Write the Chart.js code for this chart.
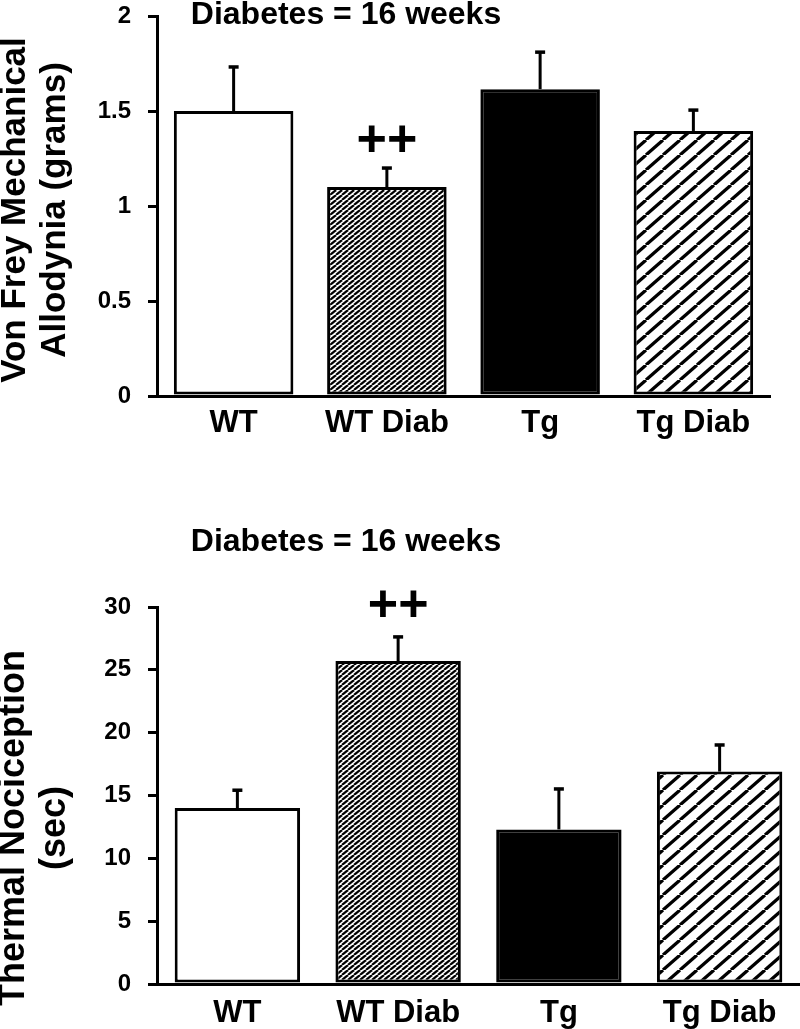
<!DOCTYPE html>
<html>
<head>
<meta charset="utf-8">
<script src="https://cdn.jsdelivr.net/npm/chart.js@4.4.1/dist/chart.umd.min.js"></script>
<style>
  html, body { margin: 0; padding: 0; background: #ffffff; }
  body { width: 800px; height: 1029px; position: relative; overflow: hidden; }
  .box { position: absolute; left: 0; width: 800px; }
  #box1 { top: -40px; height: 480px; }
  #box2 { top: 520px; height: 509px; }
</style>
</head>
<body>
<div class="box" id="box1"><canvas id="c1" width="800" height="480"></canvas></div>
<div class="box" id="box2"><canvas id="c2" width="800" height="509"></canvas></div>
<script>
// ---- data ----
const categories = ['WT', 'WT Diab', 'Tg', 'Tg Diab'];
const vonFreyMeans = [1.50, 1.10, 1.615, 1.395];
const vonFreyErr = [0.237, 0.105, 0.20, 0.115];
const thermalMeans = [14.0, 25.7, 12.3, 16.9];
const thermalErr = [1.5, 2.0, 3.3, 2.2];
const annotations = ['', '++', '', ''];
const vonFreyTicks = ['0', '0.5', '1', '1.5', '2'];
const thermalTicks = ['0', '5', '10', '15', '20', '25', '30'];
const panelTitle = 'Diabetes = 16 weeks';
const vonFreyAxisTitle = ['Von Frey Mechanical', 'Allodynia (grams)'];
const thermalAxisTitle = ['Thermal Nociception', '(sec)'];

const FONT = '"Liberation Sans", Arial, Helvetica, sans-serif';

function makeHatch(w, h, lw) {
  const c = document.createElement('canvas');
  c.width = w; c.height = h;
  const g = c.getContext('2d');
  g.fillStyle = '#ffffff';
  g.fillRect(0, 0, w, h);
  g.strokeStyle = '#000000';
  g.lineWidth = lw;
  for (let k = -1; k <= 1; k++) {
    g.beginPath();
    g.moveTo(k * w, h);
    g.lineTo(k * w + w, 0);
    g.stroke();
  }
  return g.createPattern(c, 'repeat');
}

const denseHatch = makeHatch(6, 5, 2.2);
const wideHatch = makeHatch(17, 15, 3.2);
const barFills = ['#ffffff', denseHatch, '#000000', wideHatch];

const decorPlugin = {
  id: 'decor',
  afterDatasetsDraw(chart, args, opts) {
    const ctx = chart.ctx;
    const xs = chart.scales.x, ys = chart.scales.y;
    const means = chart.data.datasets[0].data;
    const errs = opts.errors;
    ctx.save();
    ctx.strokeStyle = '#000';
    ctx.fillStyle = '#000';
    ctx.lineCap = 'butt';
    for (let i = 0; i < means.length; i++) {
      const x = xs.getPixelForValue(i);
      const yb = ys.getPixelForValue(means[i]);
      const yt = ys.getPixelForValue(means[i] + errs[i]);
      ctx.lineWidth = 3;
      ctx.beginPath();
      ctx.moveTo(x, yb);
      ctx.lineTo(x, yt);
      ctx.stroke();
      ctx.lineWidth = 3.5;
      ctx.beginPath();
      ctx.moveTo(x - 5, yt + 1);
      ctx.lineTo(x + 5, yt + 1);
      ctx.stroke();
      if (annotations[i]) {
        ctx.font = 'bold 52px ' + FONT;
        ctx.textAlign = 'center';
        ctx.textBaseline = 'middle';
        ctx.fillText(annotations[i], x, yt - opts.annoGap);
      }
    }
    // panel title
    ctx.font = 'bold 32px ' + FONT;
    ctx.textAlign = 'center';
    ctx.textBaseline = 'middle';
    ctx.fillText(panelTitle, opts.titleX, opts.titleY);
    // rotated y-axis title
    ctx.font = 'bold ' + opts.axisFont + 'px ' + FONT;
    ctx.textBaseline = 'alphabetic';
    const lines = opts.axisTitle;
    for (let j = 0; j < lines.length; j++) {
      ctx.save();
      ctx.translate(opts.axisBaselines[j], opts.axisCenterY);
      ctx.rotate(-Math.PI / 2);
      ctx.fillText(lines[j], 0, 0);
      ctx.restore();
    }
    ctx.restore();
  }
};

function makeChart(id, means, tickLabels, step, yMax, pad, xHeight, xPad, decor) {
  return new Chart(document.getElementById(id), {
    type: 'bar',
    data: {
      labels: categories,
      datasets: [{
        data: means,
        backgroundColor: barFills,
        borderColor: '#000000',
        borderWidth: 3,
        borderSkipped: false,
        categoryPercentage: 1.0,
        barPercentage: 0.78
      }]
    },
    options: {
      responsive: false,
      animation: false,
      devicePixelRatio: 1,
      layout: { autoPadding: false, padding: pad },
      plugins: { legend: { display: false }, tooltip: { enabled: false }, title: { display: false }, decor: decor },
      scales: {
        x: {
          offset: true,
          grid: { display: false, drawTicks: false },
          border: { display: true, color: '#000', width: 3 },
          ticks: { color: '#000', font: { family: FONT, size: 31, weight: 'bold' }, padding: xPad, maxRotation: 0 },
          afterFit: (s) => { s.height = xHeight; }
        },
        y: {
          min: 0, max: yMax,
          grid: { display: true, drawOnChartArea: false, drawTicks: true, tickLength: 9, lineWidth: 3, color: '#000' },
          border: { display: true, color: '#000', width: 3 },
          ticks: {
            stepSize: step, color: '#000', padding: 17,
            font: { family: FONT, size: 24, weight: 'bold' },
            callback: (v, i) => tickLabels[i]
          },
          afterFit: (s) => { s.width = 157; }
        }
      }
    },
    plugins: [decorPlugin]
  });
}

makeChart('c1', vonFreyMeans, vonFreyTicks, 0.5, 2,
  { top: 56, right: 30, bottom: 0, left: 0 }, 44, 9,
  { errors: vonFreyErr, annoGap: 25, titleX: 346, titleY: 55, axisTitle: vonFreyAxisTitle, axisFont: 35, axisBaselines: [25, 65], axisCenterY: 250 });

makeChart('c2', thermalMeans, thermalTicks, 5, 30,
  { top: 87, right: 0, bottom: 0, left: 0 }, 45, 11,
  { errors: thermalErr, annoGap: 29, titleX: 346, titleY: 22, axisTitle: thermalAxisTitle, axisFont: 36, axisBaselines: [24, 65], axisCenterY: 308 });
</script>
</body>
</html>
